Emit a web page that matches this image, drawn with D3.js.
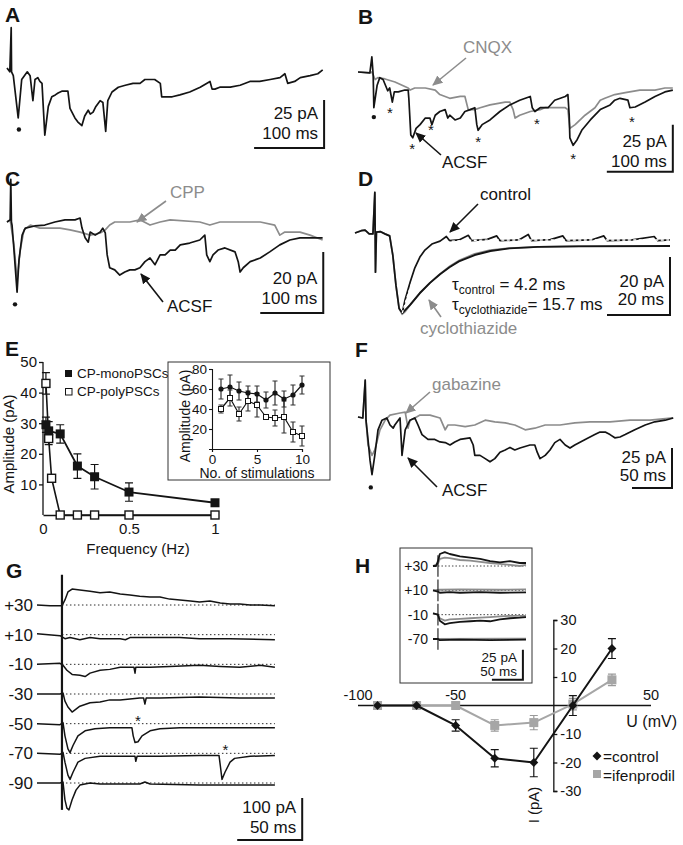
<!doctype html>
<html lang="en">
<head>
<meta charset="utf-8">
<title>PSC figure</title>
<style>
  body { margin: 0; background: #fff; }
  svg { display: block; font-family: "Liberation Sans", Arial, sans-serif; }
</style>
</head>
<body>
<script src="https://d3js.org/d3.v7.min.js"></script>
<svg width="683" height="845"></svg>
<script>
// ---------------- data (time in ms, current in pA) ----------------
// A: train of PSCs
var traceA = [[0,0],[4,-2],[6,21],[6.5,-2],[9,-4],[16,-26],[21,-6],[29,-2],[33,-4],[37,-17],[40,-6],[44,-5],[47,-7],[50,-8],[54,-35],[59,-20],[64,-15],[69,-14],[73,-13],[79,-12],[87,-12],[90,-21],[97,-26],[101,-28],[107,-30],[111,-25],[116,-22],[119,-24],[123,-23],[127,-20],[133,-17],[137,-18],[141,-33],[144,-17],[150,-12.5],[159,-10],[169,-9],[180,-8],[190,-8],[197,-6],[204,-6],[211,-6],[219,-8],[221,-15],[226,-15],[236,-15],[247,-14],[261,-12.5],[276,-10],[290,-7],[293,-11],[297,-11],[304,-10],[319,-10],[333,-9],[347,-7],[361,-7],[376,-6],[390,-5],[397,-3],[401,-8],[411,-7],[419,-5],[433,-4],[444,-3],[451,-1]];

// B: ACSF vs CNQX
var traceB_acsf = [[0,0],[18,-0.5],[21,8],[23,-1.6],[24,-19],[29,-7],[33,-3],[38,-4],[45,-10],[48,-8.5],[52,-16],[55,-10.6],[61,-10.6],[71,-9.6],[76,-9.6],[77,-14],[80,-33.5],[83,-35],[88,-30],[94,-28],[102,-24.5],[109,-24.5],[112,-28],[117,-23],[124,-21],[132,-20],[136,-24.5],[139,-23],[147,-25.5],[155,-24.5],[162,-21],[170,-20],[177,-19],[180,-28],[182,-31],[188,-28],[200,-25.5],[215,-21],[230,-17.5],[245,-15],[261,-13],[264,-19],[268,-21],[276,-19],[288,-19],[298,-15],[314,-13],[318,-12],[320,-23],[321,-35],[326,-39],[332,-36],[339,-31],[352,-25.5],[367,-20],[382,-17.5],[389,-15],[397,-14],[409,-15],[412,-19],[420,-18.6],[435,-16],[450,-13],[465,-10.6],[477,-9.6]];
var traceB_cnqx = [[0,0],[18,-0.5],[21,0],[26,-4],[30,-3],[41,-3.7],[56,-5.3],[76,-8.5],[79,-9.6],[86,-8.5],[102,-8.5],[117,-9.6],[124,-12],[139,-14],[155,-13],[162,-13],[167,-20],[177,-20],[185,-19],[200,-17.5],[223,-16],[230,-16],[235,-20],[238,-24.5],[245,-23],[261,-21],[276,-20],[283,-19],[298,-19],[314,-19],[318,-20],[321,-30],[329,-28],[344,-23],[359,-19],[367,-15],[374,-14],[389,-12],[405,-11],[427,-9.6],[450,-9.6],[465,-8.5],[477,-8.5]];

// C: ACSF vs CPP
var traceC_acsf = [[0,0],[5,0.7],[6,14],[7,0],[8,-1],[11,-9],[16,-23],[19,-12.5],[24,-4.3],[29,-2],[44,-1.3],[60,-1],[76,0],[92,0.7],[108,0.7],[116,1.3],[119,-2],[124,-5.2],[129,-6.6],[132,-3.3],[140,-4.3],[148,-3.3],[152,-2],[156,-3.6],[159,-10.8],[163,-15],[171,-15.7],[179,-17.4],[187,-16.4],[195,-15.7],[203,-15.7],[211,-15],[219,-13],[227,-11.8],[235,-14],[243,-10.8],[251,-10.8],[259,-9.2],[267,-9.2],[275,-7.5],[290,-6.9],[306,-5.9],[314,-4.3],[317,-10.8],[322,-13],[327,-10.8],[335,-9.2],[346,-8.5],[362,-9.8],[367,-13],[370,-16.4],[375,-15],[386,-13],[402,-11.8],[417,-9.8],[433,-7.5],[449,-5.9],[465,-5.2],[481,-5.2],[501,-5.2]];
var traceC_cpp = [[0,0],[5,0.7],[11,-7.5],[16,-19],[21,-9.2],[27,-2.6],[37,-1],[52,-2],[68,-2],[84,-2],[100,-2.6],[116,-3.3],[132,-4.3],[148,-3.6],[156,-2.6],[163,-1],[171,0],[195,0],[211,0.7],[227,-1],[243,0],[259,0.7],[306,0],[322,-1],[338,0],[370,0],[402,0],[425,-1],[433,-4.3],[441,-3.3],[465,-3.3],[481,-4.3],[501,-5.9]];

// D: control vs cyclothiazide, with mono-exponential fits
var traceD_ctrl = [[0,0],[2,0.8],[3.2,1],[4.5,-0.3],[5.7,-0.3],[6.3,14],[6.5,-13.5],[6.8,0.3],[8,0.5],[9.5,-0.3],[11,-1],[12,-7.6],[13,-18],[14,-26],[15,-27.6],[15.9,-23],[17.5,-17],[19,-12],[20.6,-8.3],[22.2,-5.9],[24.4,-3.8],[27,-2.8],[29,-1.2],[30,-2.6],[33,-2.4],[36,-0.8],[37,-2.6],[42,-2.2],[45,-1],[46,-2.6],[52,-2.4],[55,-0.5],[56,-2.6],[62,-2.3],[66,-1],[67,-2.6],[75,-2.4],[79,-1],[80,-2.6],[88,-2.4],[95,-1.2],[96,-2.6],[100,-2.4]];
var traceD_ctz = [[0,0],[2,0.8],[3.2,1],[4.5,-0.3],[5.7,-0.3],[6.3,14],[6.5,-13.5],[6.8,0.3],[8,0.5],[9.5,-0.3],[11,-1],[12,-7.6],[13,-18],[14,-26],[15,-28],[16,-27],[17.5,-24.8],[20.6,-20.7],[23.8,-17.2],[27,-14.1],[30.2,-11.4],[33.3,-9.3],[38,-7.2],[42.9,-5.9],[49,-5.2],[58.7,-4.8],[71.4,-4.5],[100,-4.5]];
var fitD_ctrl = [[15,-27.6],[16,-24],[17,-20.5],[18,-17.5],[19,-14.5],[20,-12],[21,-10],[22,-8.2],[23,-6.8],[24,-5.6],[26,-4.2],[28,-3.3],[31,-2.8],[36,-2.5],[50,-2.4],[100,-2.4]];
var fitD_ctz = [[15,-27.6],[17.5,-24.8],[20.6,-20.7],[23.8,-17.2],[27,-14.2],[30,-11.8],[33,-9.8],[38,-7.6],[43,-6.2],[49,-5.3],[58,-4.8],[71,-4.6],[100,-4.5]];
var tauControl = "4.2", tauCyclo = "15.7";

// E: amplitude vs stimulation frequency
var freqMono = [0.017, 0.033, 0.1, 0.2, 0.3, 0.5, 1];
var ampMono = [29.5, 27.5, 26.5, 16, 12.5, 7.5, 4];
var errMono = [2.5, 3, 3, 4, 4, 3, 0.6];
var freqPoly = [0.017, 0.033, 0.05, 0.1, 0.2, 0.3, 0.5, 1];
var ampPoly = [43, 25, 12, 0, 0, 0, 0, 0];
var errPoly = [3.5, 2, 0, 0, 0, 0, 0, 0];
// E inset: amplitude vs stimulation number
var stimNo = [1, 2, 3, 4, 5, 6, 7, 8, 9, 10];
var insMono = [60, 62, 58, 56, 55, 49, 56, 50, 54, 64];
var insMonoErr = [10, 12, 9, 7, 8, 8, 12, 8, 10, 9];
var insPoly = [40, 51, 35, 48, 44, 32, 31, 32, 17, 13];
var insPolyErr = [4, 8, 7, 10, 12, 2, 8, 16, 10, 10];

// F: ACSF vs gabazine
var traceF_acsf = [[0,0],[6,-0.6],[9,23],[10,-2],[12.5,-14],[15,-27],[17.5,-36],[21,-24],[25,-8],[30,-2],[36,-0.6],[40,-5],[44,-7],[46,-5],[52.5,-0.6],[54,-14],[55,-24],[59,-8],[65,-2],[71,-0.6],[75,-5],[80,-11],[87.5,-14],[96,-14],[102.5,-15.6],[109,-16],[115,-17.5],[121,-15.6],[127.5,-14],[140,-13],[144,-17.5],[146,-24],[152.5,-24],[159,-26],[165,-28],[171,-26],[177.5,-22],[184,-20.6],[190,-19],[196,-20.6],[202.5,-19.4],[215,-17.5],[221,-17.5],[224,-22],[227.5,-26],[234,-24],[240,-20.6],[246,-16],[252.5,-14],[259,-17.5],[265,-19.4],[271,-17.5],[284,-14],[296,-11],[302.5,-9.4],[309,-9.4],[315,-11],[321,-13],[327.5,-12.5],[334,-11],[346,-8],[359,-5],[371,-3],[384,-2],[394,-0.6]];
var traceF_gbz = [[0,0],[6,-0.6],[9,23],[10,-2],[12.5,-17.5],[17.5,-24],[21,-20.6],[27.5,-8],[34,-2],[40,1.2],[52.5,2.5],[59,3],[62.5,-7],[65,-2],[71,-0.6],[77.5,1.2],[90,1.2],[102.5,-0.6],[109,-8],[112.5,-5],[121,-5],[134,-6],[146,-5],[159,-2],[171,-3],[184,-3.7],[196,-5],[209,-8],[221,-7],[234,-5],[252.5,-5],[271,-3.7],[290,-3],[315,-3],[340,-2],[365,-2],[394,-0.6]];

// G: PSCs at holding potentials (mV)
var gVolts = [30, 10, -10, -30, -50, -70, -90];
var gP30 = [[0,0],[10,-2],[17.7,-2],[19.2,-2],[21.5,12],[23.8,31],[27,38],[33,36],[40.8,33],[48.5,29],[56,31],[64,26],[71.5,24],[79,21],[87,19],[94.6,19],[102,14],[110,12],[118,9.5],[125,7],[133,9.5],[141,5],[148.5,2.4],[156,2.4],[164,0],[171.5,0],[183,-2]];
var gP10 = [[0,2.4],[17.7,-2.4],[21.5,-9.5],[25.4,-7],[33,-12],[40.8,-7],[48.5,-9.5],[64,-9.5],[68,-12],[71.5,-7],[87,-7],[110,-7],[125,-9.5],[148.5,-9.5],[183,-12]];
var gM10 = [[0,0],[17.7,2.4],[20,-2.4],[23,-14],[27,-24],[33,-26],[37,-29],[40.8,-21],[48.5,-14],[56,-12],[64,-7],[71.5,-7],[74.6,-7],[75.4,-21],[76,-7],[87,-7],[102,-5],[125,-2.4],[141,-5],[156,-7],[171.5,-2.4],[183,-7]];
var gM30 = [[0,0],[17.7,0],[20,2.4],[21.5,-17],[23.8,-31],[27,-43],[30,-36],[33,-29],[40.8,-21],[48.5,-19],[56,-14],[64,-14],[71.5,-12],[79,-9.5],[82,-9.5],[83,-24],[84,-9.5],[94.6,-9.5],[125,-7],[156,-9.5],[183,-9.5]];
var gM50 = [[0,0],[17.7,-2.4],[20,2.4],[21.5,-29],[23.8,-60],[25.4,-69],[27.7,-52],[31.5,-29],[37,-17],[44.6,-12],[56,-9.5],[68,-9.5],[73,-9.5],[74,-29],[75.4,-45],[77.7,-43],[80.8,-29],[87,-17],[94.6,-12],[110,-9.5],[141,-9.5],[183,-9.5]];
var gM70 = [[0,0],[17.7,-2.4],[20,2.4],[21.5,-21],[23.8,-52],[25.4,-62],[27.7,-45],[31.5,-21],[37,-12],[48.5,-7],[71.5,-7],[75.4,-7],[76,-19],[77,-7],[94.6,-7],[125,-5],[140,-5],[141,-29],[142.3,-62],[144.6,-45],[148.5,-21],[152,-12],[164,-7],[183,-5]];
var gM90 = [[0,0],[17.7,0],[20,2.4],[21.5,-40],[23,-60],[24.6,-64],[27,-40],[30,-17],[33,-5],[40.8,0],[48.5,-2.4],[79,-2.4],[83,2.4],[87,-2.4],[125,-5],[183,-5]];
var gTraces = [gP30, gP10, gM10, gM30, gM50, gM70, gM90];
var gStim = 19.2;
var gAsterisks = [[-50, 77.7, 12], [-70, 145, 12]];

// H inset: control (black) and ifenprodil (grey)
var hVolts = [30, 10, -10, -70];
var hCtrl = [
  [[0,0],[5,0],[8,4],[11,10],[19,11.5],[27,10],[43.5,8],[60,7],[76,6],[92,4],[108,3],[124,4],[140,2.5],[150,2.5]],
  [[0,0],[8,-1],[11,-2],[27,-1.5],[43.5,-2],[76,-1.5],[108,-2],[150,-1.7]],
  [[0,1],[8,0],[11,-5],[19,-8],[27,-7],[43.5,-6],[60,-5.5],[76,-5],[92,-5.5],[108,-4],[124,-3],[140,-2.5],[150,-2]],
  [[0,0],[8,0],[11,-1],[43.5,-0.5],[92,-1],[150,-0.5]]
];
var hIfen = [
  [[0,0],[8,2],[11,6],[19,7],[27,6.5],[43.5,5],[60,4.5],[76,3.5],[92,2.5],[108,1.7],[124,1],[140,0],[150,1]],
  [[0,0],[11,0.5],[43.5,0.8],[108,0.5],[150,0.8]],
  [[0,1],[8,0],[11,-3],[19,-5],[27,-4],[43.5,-3.5],[60,-3],[76,-2.5],[92,-2],[108,-1.5],[124,-1],[150,-1]],
  [[0,0],[150,0.3]]
];
var hStim = 8;
// H: I-V relation
var ivV = [-90, -70, -50, -30, -10, 10, 30];
var ivCtrl = [0, 0, -7, -18.5, -20, 0, 20];
var ivCtrlErr = [0, 0, 2, 3, 5, 3.5, 3.5];
var ivIfen = [0, 0, 0, -7, -6, 0.5, 9];
var ivIfenErr = [0, 0, 0, 2, 2.5, 2, 2];

// ---------------- drawing helpers ----------------
var svg = d3.select("svg");
var BLACK = "#141414", GRAY = "#8c8c8c";

var defs = svg.append("defs");
[["arrK", BLACK], ["arrG", GRAY]].forEach(([id, c]) => {
  defs.append("marker").attr("id", id).attr("viewBox", "0 0 10 10")
    .attr("refX", 9).attr("refY", 5).attr("markerWidth", 6.5).attr("markerHeight", 6.5)
    .attr("orient", "auto")
    .append("path").attr("d", "M0,0.5 L10,5 L0,9.5 z").attr("fill", c);
});

function label(x, y, s, o) {
  o = o || {};
  return svg.append("text").attr("x", x).attr("y", y).text(s)
    .attr("font-size", o.size || 17).attr("fill", o.color || BLACK)
    .attr("text-anchor", o.anchor || "start")
    .attr("font-weight", o.weight || "normal");
}
function panel(x, y, s) { label(x, y, s, {size: 21, weight: "bold"}); }

function arrow(x1, y1, x2, y2, c) {
  svg.append("line").attr("x1", x1).attr("y1", y1).attr("x2", x2).attr("y2", y2)
    .attr("stroke", c).attr("stroke-width", 1.6)
    .attr("marker-end", c === GRAY ? "url(#arrG)" : "url(#arrK)");
}

function trace(xs, ys, data, c, w) {
  var ln = d3.line().x(d => xs(d[0])).y(d => ys(d[1]));
  return svg.append("path").attr("d", ln(data)).attr("fill", "none")
    .attr("stroke", c).attr("stroke-width", w || 1.7).attr("stroke-linejoin", "round");
}

function scaleBar(xs, ys, t0, v0, dt, dv, t1, t2, o) {
  var xR = xs(t0 + dt), yB = ys(v0), yT = ys(v0 + dv);
  svg.append("path").attr("d", `M${xs(t0)},${yB}H${xR}V${yT}`)
    .attr("fill", "none").attr("stroke", BLACK).attr("stroke-width", 2);
  label(xR - 6, yB - o.d1, t1, {anchor: "end", size: o.size || 17});
  label(xR - 6, yB - o.d2, t2, {anchor: "end", size: o.size || 17});
}

function dot(xs, ys, t, v) {
  svg.append("circle").attr("cx", xs(t)).attr("cy", ys(v)).attr("r", 2.2).attr("fill", BLACK);
}
function star(xs, ys, t, v) {
  label(xs(t), ys(v) + 7, "*", {anchor: "middle", size: 15});
}

// ---------------- A ----------------
var xA = d3.scaleLinear().domain([0, 100]).range([7, 77]);
var yA = d3.scaleLinear().domain([0, 25]).range([68, 20]);
panel(5, 22, "A");
trace(xA, yA, traceA, BLACK);
dot(xA, yA, 17, -32);
scaleBar(xA, yA, 353, -41.7, 100, 25, "25 pA", "100 ms", {d1: 29, d2: 9});

// ---------------- B ----------------
var xB = d3.scaleLinear().domain([0, 100]).range([358, 424]);
var yB = d3.scaleLinear().domain([0, 25]).range([72, 25]);
panel(358, 24, "B");
trace(xB, yB, traceB_cnqx, GRAY);
trace(xB, yB, traceB_acsf, BLACK);
dot(xB, yB, 24, -24);
[[48.5,-21],[82,-40],[110.6,-30],[182,-36],[271,-26.6],[326,-45],[415,-25.5]]
  .forEach(d => star(xB, yB, d[0], d[1]));
label(463, 53, "CNQX", {color: GRAY});
arrow(466, 58, 433, 85, GRAY);
label(442, 168, "ACSF");
arrow(441, 155, 416, 133, BLACK);
scaleBar(xB, yB, 377, -53, 100, 25, "25 pA", "100 ms", {d1: 25, d2: 5});

// ---------------- C ----------------
var xC = d3.scaleLinear().domain([0, 100]).range([7, 70]);
var yC = d3.scaleLinear().domain([0, 20]).range([222, 161]);
panel(5, 186, "C");
trace(xC, yC, traceC_cpp, GRAY);
trace(xC, yC, traceC_acsf, BLACK);
dot(xC, yC, 12.7, -27);
label(170, 198, "CPP", {color: GRAY});
arrow(166, 201, 137, 222, GRAY);
label(167, 312, "ACSF");
arrow(163, 302, 141, 274, BLACK);
scaleBar(xC, yC, 402, -29.8, 100, 20, "20 pA", "100 ms", {d1: 29, d2: 9});

// ---------------- D ----------------
var xD = d3.scaleLinear().domain([0, 20]).range([355, 418]);
var yD = d3.scaleLinear().domain([0, 20]).range([233, 175]);
panel(358, 186, "D");
trace(xD, yD, traceD_ctz, GRAY, 1.8);
trace(xD, yD, traceD_ctrl, BLACK, 1.7);
trace(xD, yD, fitD_ctz, BLACK, 1.9);
trace(xD, yD, fitD_ctrl, "#fff", 1.4).attr("stroke-dasharray", "3,2.5");
label(480, 200, "control");
arrow(478, 204, 450, 232, BLACK);
var tau1 = label(452, 290, "τ", {});
tau1.append("tspan").attr("font-size", 12).attr("dy", 4).text("control");
tau1.append("tspan").attr("dy", -4).text(" = " + tauControl + " ms");
var tau2 = label(452, 310, "τ", {});
tau2.append("tspan").attr("font-size", 12).attr("dy", 4).text("cyclothiazide");
tau2.append("tspan").attr("dy", -4).text("= " + tauCyclo + " ms");
label(420, 334, "cyclothiazide", {color: GRAY});
arrow(441, 317, 429, 300, GRAY);
scaleBar(xD, yD, 80, -28.3, 20, 20, "20 pA", "20 ms", {d1: 28, d2: 10});

// ---------------- E ----------------
var xE = d3.scaleLinear().domain([0, 1]).range([43, 215]);
var yE = d3.scaleLinear().domain([0, 50]).range([515, 362]);
panel(5, 356, "E");
svg.append("g").attr("transform", `translate(${xE(0)},0)`)
  .call(d3.axisLeft(yE).tickValues([10, 20, 30, 40, 50]).tickSize(4).tickPadding(2).tickFormat(d3.format("d")))
  .call(g => g.select(".domain").attr("d", `M0,${yE(0)}V${yE(50)}`));
svg.append("g").attr("transform", `translate(0,${yE(0)})`)
  .call(d3.axisBottom(xE).tickValues([0, 0.5, 1]).tickSize(0).tickPadding(8).tickFormat(d => d === 0.5 ? "0.5" : d3.format("d")(d)));
svg.selectAll(".tick text").attr("font-size", 15).attr("font-family", null).attr("fill", BLACK);
svg.selectAll(".domain, .tick line").attr("stroke", BLACK).attr("stroke-width", 1.3);
label(138, 554, "Frequency (Hz)", {anchor: "middle", size: 15});
label(0, 0, "Amplitude (pA)", {anchor: "middle", size: 15})
  .attr("transform", "translate(14,444) rotate(-90)");

function errBars(xs, ys, xv, yv, ev, c, cap) {
  xv.forEach((x, i) => {
    if (!ev[i]) return;
    var px = xs(x), y1 = ys(yv[i] - ev[i]), y2 = ys(yv[i] + ev[i]);
    svg.append("path").attr("d", `M${px},${y1}V${y2}M${px - cap},${y1}H${px + cap}M${px - cap},${y2}H${px + cap}`)
      .attr("stroke", c).attr("stroke-width", 1.2).attr("fill", "none");
  });
}
function pts(xv, yv) { return xv.map((x, i) => [x, yv[i]]); }

errBars(xE, yE, freqPoly, ampPoly, errPoly, BLACK, 4);
errBars(xE, yE, freqMono, ampMono, errMono, BLACK, 4);
trace(xE, yE, pts(freqPoly, ampPoly), BLACK, 1.6);
trace(xE, yE, pts(freqMono, ampMono), BLACK, 1.8);
freqPoly.forEach((f, i) => svg.append("rect").attr("x", xE(f) - 4).attr("y", yE(ampPoly[i]) - 4)
  .attr("width", 8).attr("height", 8).attr("fill", "#fff").attr("stroke", BLACK).attr("stroke-width", 1.4));
freqMono.forEach((f, i) => svg.append("rect").attr("x", xE(f) - 4.5).attr("y", yE(ampMono[i]) - 4.5)
  .attr("width", 9).attr("height", 9).attr("fill", BLACK));
// legend
svg.append("rect").attr("x", 65).attr("y", 370).attr("width", 7).attr("height", 7).attr("fill", BLACK);
label(77, 378, "CP-monoPSCs", {size: 13.5});
svg.append("rect").attr("x", 65.5).attr("y", 388.5).attr("width", 6.5).attr("height", 6.5)
  .attr("fill", "#fff").attr("stroke", BLACK).attr("stroke-width", 1);
label(77, 396, "CP-polyPSCs", {size: 13.5});

// inset
svg.append("rect").attr("x", 168).attr("y", 362).attr("width", 162).attr("height", 118)
  .attr("fill", "#fff").attr("stroke", "#333").attr("stroke-width", 1);
var xEi = d3.scaleLinear().domain([0, 10]).range([212, 302]);
var yEi = d3.scaleLinear().domain([0, 80]).range([449, 369]);
var gi = svg.append("g");
gi.append("g").attr("transform", `translate(${xEi(0)},0)`)
  .call(d3.axisLeft(yEi).tickValues([20, 40, 60, 80]).tickSize(3).tickPadding(2).tickFormat(d3.format("d")));
gi.append("g").attr("transform", `translate(0,${yEi(0)})`)
  .call(d3.axisBottom(xEi).tickValues([0, 5, 10]).tickSize(3).tickPadding(2).tickFormat(d3.format("d")));
gi.selectAll(".tick text").attr("font-size", 13.5).attr("font-family", null).attr("fill", BLACK);
gi.selectAll(".domain, .tick line").attr("stroke", BLACK).attr("stroke-width", 1.1);
label(257, 478, "No. of stimulations", {anchor: "middle", size: 14});
label(0, 0, "Amplitude (pA)", {anchor: "middle", size: 14})
  .attr("transform", "translate(190,416) rotate(-90)");
errBars(xEi, yEi, stimNo, insMono, insMonoErr, "#333", 2.5);
errBars(xEi, yEi, stimNo, insPoly, insPolyErr, "#333", 2.5);
trace(xEi, yEi, pts(stimNo, insMono), BLACK, 1.2);
trace(xEi, yEi, pts(stimNo, insPoly), BLACK, 1.2);
stimNo.forEach((n, i) => svg.append("circle").attr("cx", xEi(n)).attr("cy", yEi(insMono[i])).attr("r", 2.6).attr("fill", BLACK));
stimNo.forEach((n, i) => svg.append("rect").attr("x", xEi(n) - 2.5).attr("y", yEi(insPoly[i]) - 2.5)
  .attr("width", 5).attr("height", 5).attr("fill", "#fff").attr("stroke", BLACK).attr("stroke-width", 1));

// ---------------- F ----------------
var xF = d3.scaleLinear().domain([0, 50]).range([358, 398]);
var yF = d3.scaleLinear().domain([0, 25]).range([417, 377]);
panel(355, 357, "F");
trace(xF, yF, traceF_gbz, GRAY);
trace(xF, yF, traceF_acsf, BLACK);
dot(xF, yF, 16, -44);
label(432, 390, "gabazine", {color: GRAY});
arrow(430, 392, 406, 413, GRAY);
label(442, 496, "ACSF");
arrow(437, 487, 408, 458, BLACK);
scaleBar(xF, yF, 342.5, -44.4, 50, 25, "25 pA", "50 ms", {d1: 25, d2: 7});

// ---------------- G ----------------
var xG = d3.scaleLinear().domain([0, 50]).range([37, 102]);
var rowG = d3.scalePoint().domain(gVolts).range([605, 783]);
var ampG = d3.scaleLinear().domain([0, 100]).range([0, -42]);
var yGrow = v => (a => rowG(v) + ampG(a));
panel(6, 578, "G");
var vfmt = v => (v > 0 ? "+" : "-") + Math.abs(v);
gVolts.forEach((v, i) => {
  var ys = yGrow(v);
  svg.append("line").attr("x1", xG(gStim)).attr("x2", xG(183)).attr("y1", ys(0)).attr("y2", ys(0))
    .attr("stroke", BLACK).attr("stroke-width", 0.9).attr("stroke-dasharray", "1.5,2.5");
  trace(xG, ys, gTraces[i], BLACK, 1.5);
  label(33, ys(0) + 6, vfmt(v), {anchor: "end", size: 17});
});
svg.append("line").attr("x1", xG(gStim)).attr("x2", xG(gStim))
  .attr("y1", yGrow(30)(72)).attr("y2", yGrow(-90)(-64))
  .attr("stroke", BLACK).attr("stroke-width", 2.2);
gAsterisks.forEach(d => star(xG, yGrow(d[0]), d[1], d[2]));
scaleBar(xG, yGrow(-90), 154, -136, 50, 100, "100 pA", "50 ms", {d1: 27, d2: 7});

// ---------------- H ----------------
panel(355, 573, "H");
svg.append("rect").attr("x", 400).attr("y", 548).attr("width", 132).attr("height", 135)
  .attr("fill", "#fff").attr("stroke", "#333").attr("stroke-width", 1);
var xH = d3.scaleLinear().domain([0, 50]).range([433, 464]);
var rowH = d3.scalePoint().domain(hVolts).range([566, 639]);
var ampH = d3.scaleLinear().domain([0, 25]).range([0, -30]);
var yHrow = v => (a => rowH(v) + ampH(a));
hVolts.forEach((v, i) => {
  var ys = yHrow(v);
  svg.append("line").attr("x1", xH(hStim)).attr("x2", xH(150)).attr("y1", ys(0)).attr("y2", ys(0))
    .attr("stroke", BLACK).attr("stroke-width", 0.8).attr("stroke-dasharray", "1.5,2");
  trace(xH, ys, hIfen[i], GRAY, 1.8);
  trace(xH, ys, hCtrl[i], BLACK, 1.8);
  svg.append("line").attr("x1", xH(hStim)).attr("x2", xH(hStim)).attr("y1", ys(9)).attr("y2", ys(-9))
    .attr("stroke", BLACK).attr("stroke-width", 1.1);
  label(428, ys(0) + 5, vfmt(v), {anchor: "end", size: 14});
});
scaleBar(xH, yHrow(-70), 95, -34, 50, 25, "25 pA", "50 ms", {d1: 17.5, d2: 4, size: 13.5});

// I-V plot
var xIV = d3.scaleLinear().domain([-100, 50]).range([358, 651]);
var yIV = d3.scaleLinear().domain([-30, 30]).range([791, 620]);
svg.append("line").attr("x1", xIV(-100)).attr("x2", xIV(50)).attr("y1", yIV(0)).attr("y2", yIV(0))
  .attr("stroke", BLACK).attr("stroke-width", 1.3);
svg.append("g").attr("transform", `translate(${xIV(0)},0)`)
  .call(d3.axisRight(yIV).tickValues([-30, -20, -10, 10, 20, 30]).tickSize(4).tickPadding(3).tickFormat(d => String(d)))
  .call(g => g.selectAll(".tick text").attr("font-size", 14.5).attr("font-family", null).attr("fill", BLACK))
  .call(g => g.selectAll(".domain, .tick line").attr("stroke", BLACK).attr("stroke-width", 1.3));
[-100, -50, 50].forEach(v => label(xIV(v), yIV(0) - 6, String(v), {anchor: "middle", size: 14.5}));
label(677, 727, "U (mV)", {anchor: "end", size: 16});
label(0, 0, "I (pA)", {anchor: "middle", size: 15}).attr("transform", `translate(539,805) rotate(-90)`);

errBars(xIV, yIV, ivV, ivIfen, ivIfenErr, "#9a9a9a", 4);
trace(xIV, yIV, pts(ivV, ivIfen), "#a6a6a6", 2);
ivV.forEach((v, i) => svg.append("rect").attr("x", xIV(v) - 4.5).attr("y", yIV(ivIfen[i]) - 4.5)
  .attr("width", 9).attr("height", 9).attr("fill", "#a6a6a6"));
errBars(xIV, yIV, ivV, ivCtrl, ivCtrlErr, BLACK, 4);
trace(xIV, yIV, pts(ivV, ivCtrl), BLACK, 2);
var diamond = d3.symbol().type(d3.symbolSquare).size(40);
ivV.forEach((v, i) => svg.append("path").attr("d", diamond())
  .attr("transform", `translate(${xIV(v)},${yIV(ivCtrl[i])}) rotate(45)`).attr("fill", BLACK));
svg.append("path").attr("d", diamond()).attr("transform", "translate(597,756) rotate(45)").attr("fill", BLACK);
label(603, 762, "=control", {size: 15.5});
svg.append("rect").attr("x", 593).attr("y", 770).attr("width", 8).attr("height", 8).attr("fill", "#a6a6a6");
label(603, 781, "=ifenprodil", {size: 15.5});
</script>
</body>
</html>
